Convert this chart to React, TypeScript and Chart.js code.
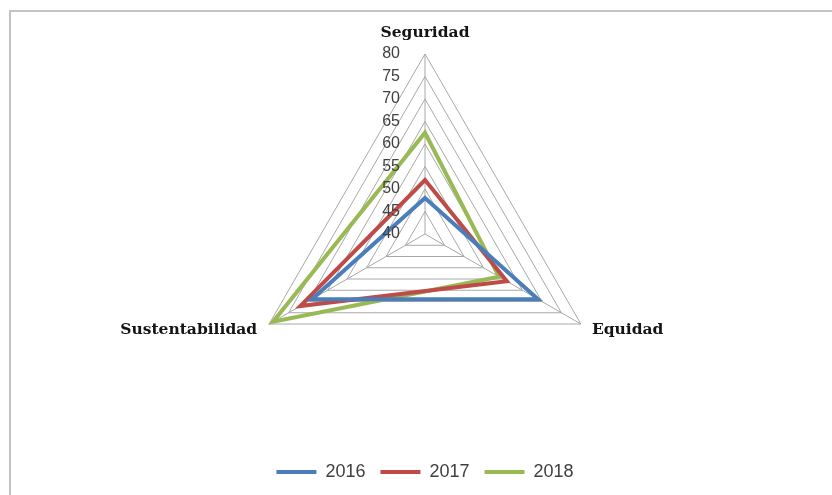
import React, { useEffect, useRef } from "react";
import { Chart, registerables } from "chart.js";

Chart.register(...registerables);

const categories = ["Seguridad", "Equidad", "Sustentabilidad"];
const seriesNames = ["2016", "2017", "2018"];
const values2016 = [48, 69, 69];
const values2017 = [52, 61, 72];
const values2018 = [62.5, 59, 79];
const tickValues = [40, 45, 50, 55, 60, 65, 70, 75, 80];
const seriesColors = ["#4a7ebb", "#be4b48", "#98b954"];

const labelPlugin = {
  id: "customLabels",
  afterDatasetsDraw(chart: any) {
    const s = chart.scales.r;
    const ctx = chart.ctx;
    ctx.save();
    ctx.font = "16px 'Liberation Sans', Arial, sans-serif";
    ctx.fillStyle = "#404040";
    ctx.textAlign = "right";
    ctx.textBaseline = "middle";
    tickValues.forEach((t) => {
      const d = s.getDistanceFromCenterForValue(t);
      ctx.fillText(String(t), s.xCenter - 25, s.yCenter - d);
    });
    ctx.font = "bold 15.5px 'DejaVu Serif', serif";
    ctx.fillStyle = "#141414";
    ctx.textBaseline = "alphabetic";
    chart.data.labels.forEach((lab: string, i: number) => {
      const v = s.getPointPosition(i, s.drawingArea);
      const sx = Math.sin(s.getIndexAngle(i));
      if (Math.abs(sx) < 0.01) {
        ctx.textAlign = "center";
        ctx.fillText(lab, v.x, v.y - 17);
      } else {
        ctx.textAlign = sx > 0 ? "left" : "right";
        ctx.fillText(lab, v.x + (sx > 0 ? 11 : -12), v.y + 10);
      }
    });
    ctx.restore();
  },
};

export default function App() {
  const ref = useRef<HTMLCanvasElement>(null);
  useEffect(() => {
    if (!ref.current) return;
    const all = [values2016, values2017, values2018];
    const chart = new Chart(ref.current, {
      type: "radar",
      data: {
        labels: categories,
        datasets: all.map((vals, i) => ({
          label: seriesNames[i],
          data: vals,
          borderColor: seriesColors[i],
          backgroundColor: seriesColors[i],
          borderWidth: 4,
          pointRadius: 0,
          pointHoverRadius: 0,
          fill: false,
          tension: 0,
        })),
      },
      options: {
        responsive: false,
        animation: false,
        layout: { padding: { left: 245, right: 227, top: 21, bottom: 4 } },
        scales: {
          r: {
            min: 40,
            max: 80,
            ticks: { stepSize: 5, display: false },
            pointLabels: { display: false },
            grid: { color: "#a8a8a8", lineWidth: 1 },
            angleLines: { color: "#a8a8a8", lineWidth: 1 },
          },
        },
        plugins: {
          legend: {
            position: "bottom",
            labels: {
              usePointStyle: true,
              pointStyle: "line",
              pointStyleWidth: 40,
              padding: 15,
              color: "#404040",
              font: { family: "'Liberation Sans', Arial, sans-serif", size: 18 },
            },
          },
          tooltip: { enabled: false },
        },
      },
      plugins: [labelPlugin],
    });
    return () => chart.destroy();
  }, []);
  return (
    <div style={{ position: "absolute", left: 0, top: 0, width: 832, height: 495, background: "#fff", overflow: "hidden" }}>
      <div
        style={{
          position: "absolute",
          left: 9,
          top: 10,
          width: 823,
          height: 485,
          boxSizing: "border-box",
          borderLeft: "2px solid #c3c3c3",
          borderTop: "2px solid #c3c3c3",
        }}
      />
      <canvas ref={ref} width={832} height={495} style={{ position: "absolute", left: 0, top: 0, display: "block" }} />
    </div>
  );
}
